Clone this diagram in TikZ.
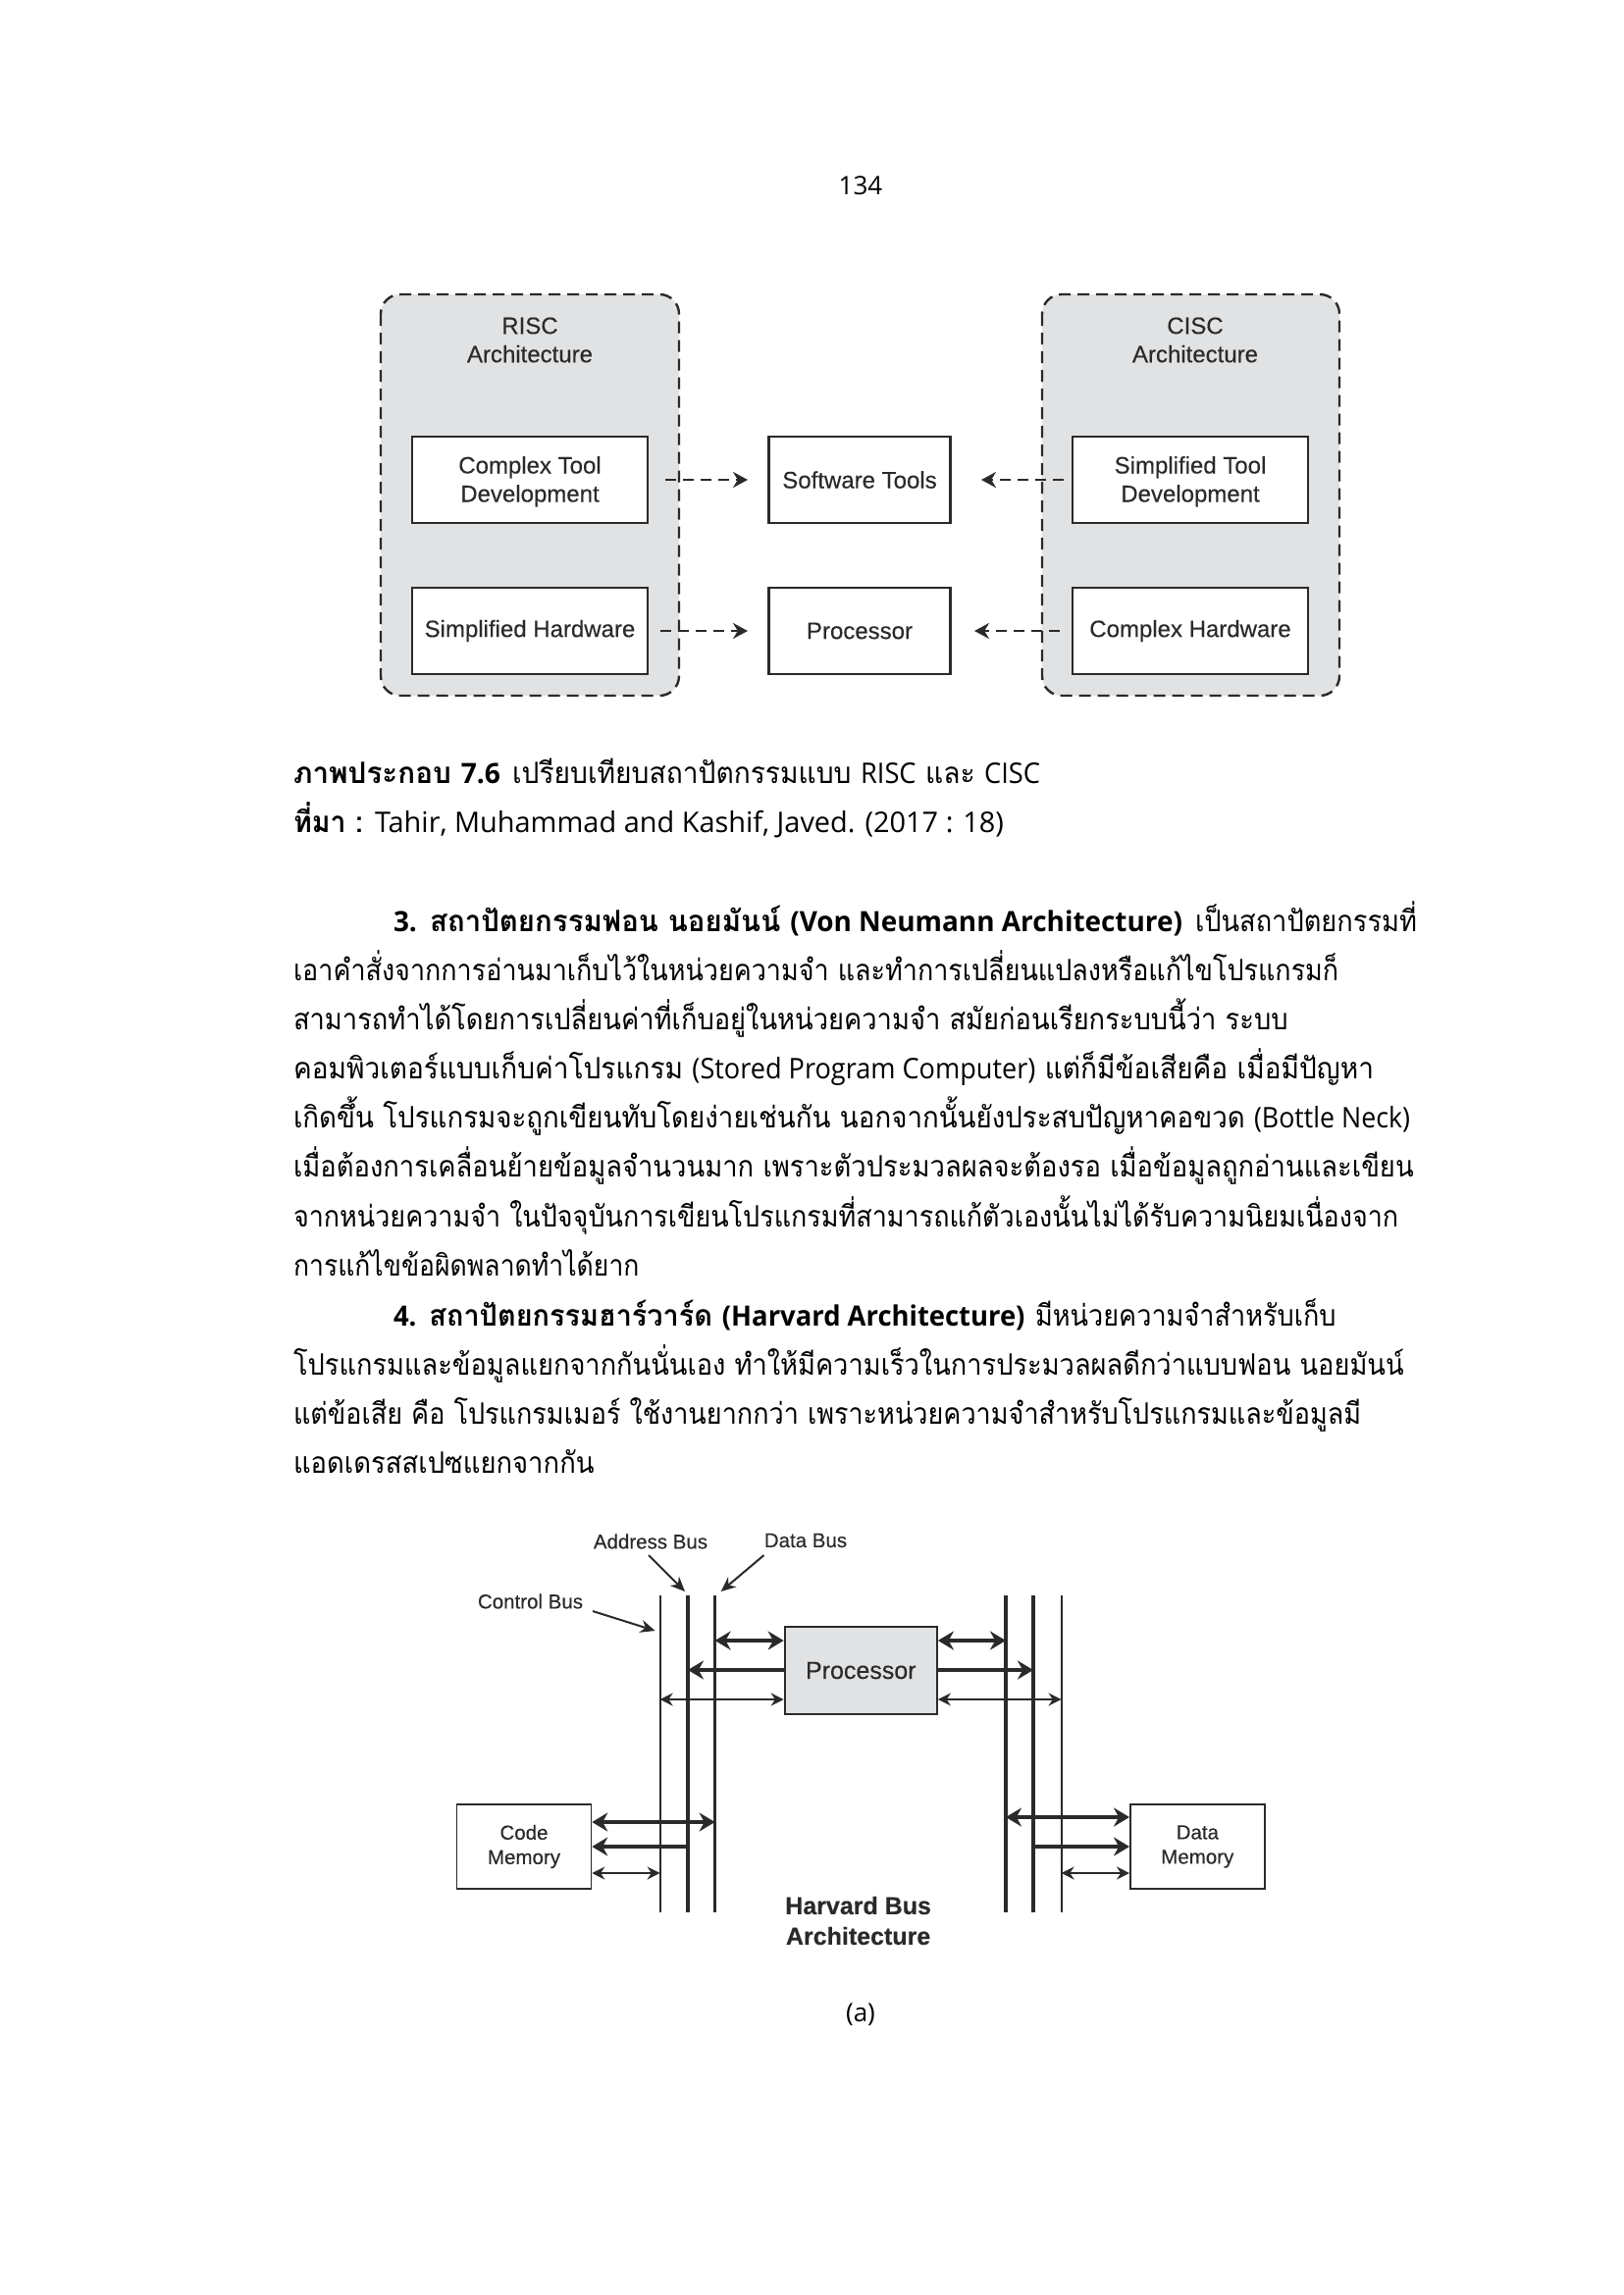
\documentclass[tikz,border=0pt]{standalone}
\usepackage{fontspec}
\usepackage{graphicx}
\usetikzlibrary{arrows.meta}
\newfontfamily\thaifont[Script=Thai]{Loma}
\newfontfamily\lat{Open Sans}
\newfontfamily\arialfont[FakeBold=0.25]{Liberation Sans}
\newfontfamily\arialbd[FakeBold=0.25]{Liberation Sans Bold}
\definecolor{boxgray}{HTML}{E1E2E3}
\definecolor{ink}{HTML}{2A2A2A}
\newcommand{\fitw}[2]{\resizebox{#1pt}{\height}{#2}}
\newcommand{\tl}[1]{{\lat\fontsize{29}{29}\selectfont #1}}
\newcommand{\bl}[1]{{\lat\bfseries\fontsize{28.5}{29}\selectfont #1}}
\newcommand{\topstrut}{\rule{0pt}{21pt}}
\tikzset{
  x=1pt,y=-1pt,
  body/.style={anchor=base west,inner sep=0pt,outer sep=0pt,text=black,font=\thaifont\fontsize{30}{30}\selectfont},
  bodyb/.style={body,font=\thaifont\bfseries\fontsize{30}{30}\selectfont},
  pagetxt/.style={inner sep=0pt,anchor=base,text=black,font=\lat\fontsize{26}{26}\selectfont},
  group/.style={draw=ink,fill=boxgray,line width=2.4pt,dash pattern=on 12pt off 7pt,rounded corners=20pt},
  plain/.style={draw=ink,fill=white,line width=2.2pt,inner sep=0pt,align=center,text=ink,font=\arialfont\fontsize{24}{29}\selectfont},
  small/.style={draw=ink,fill=white,line width=1.6pt,inner sep=0pt,align=center,text=ink,font=\arialfont\fontsize{20.5}{25}\selectfont},
  lab/.style={inner sep=0pt,align=center,text=ink,font=\arialfont\fontsize{24}{29}\selectfont},
  buslab/.style={inner sep=0pt,text=ink,font=\arialfont\fontsize{20.5}{25}\selectfont},
  dasharrow/.style={draw=ink,line width=2.4pt,dash pattern=on 11pt off 7pt,-{Stealth[length=15pt,width=16pt]}},
  thinbus/.style={draw=ink,line width=2pt},
  thickbus/.style={draw=ink,line width=3.6pt},
  biglink/.style={draw=ink,line width=4.2pt,{Stealth[length=16pt,width=19pt]}-{Stealth[length=16pt,width=19pt]}},
  bigone/.style={draw=ink,line width=4.2pt,-{Stealth[length=16pt,width=19pt]}},
  thinlink/.style={draw=ink,line width=2pt,{Stealth[length=13pt,width=13pt]}-{Stealth[length=13pt,width=13pt]}},
  pointer/.style={draw=ink,line width=2pt,-{Stealth[length=15pt,width=13pt]}},
}
\begin{document}
\begin{tikzpicture}
\useasboundingbox (0,0) rectangle (1654,2339);
\fill[white] (0,0) rectangle (1654,2339);

\node[pagetxt] (pnum) at (877,198) {134};

% --- RISC / CISC figure
\path[group] (388,300) rectangle (692,709);
\path[group] (1062,300) rectangle (1365,709);
\node[lab] (risc) at (540,346.5) {RISC\\Architecture};
\node[lab] (cisc) at (1218,346.5) {CISC\\Architecture};
\node[plain,minimum width=240pt,minimum height=88pt] (ctd) at (540,489) {\topstrut Complex Tool\\Development};
\node[plain,minimum width=240pt,minimum height=88pt] (shw) at (540,643) {Simplified Hardware};
\node[plain,minimum width=185pt,minimum height=88pt] (sw) at (876,489) {Software Tools};
\node[plain,minimum width=185pt,minimum height=88pt] (pr) at (876,643) {Processor};
\node[plain,minimum width=240pt,minimum height=88pt] (std) at (1213,489) {\topstrut Simplified Tool\\Development};
\node[plain,minimum width=240pt,minimum height=88pt] (chw) at (1213,643) {Complex Hardware};
\coordinate (a1) at (678,489);
\coordinate (a2) at (673,643);
\coordinate (a3) at (1084,489);
\coordinate (a4) at (1080,643);
\coordinate (t1) at (762,489);
\coordinate (t2) at (762,643);
\coordinate (t3) at (1000,489);
\coordinate (t4) at (993,643);
\draw[dasharrow] (a1) -- (t1);
\draw[dasharrow] (a2) -- (t2);
\draw[dasharrow] (a3) -- (t3);
\draw[dasharrow] (a4) -- (t4);

% --- caption
\node[bodyb] (c1a) at (299,798) {\fitw{211}{ภาพประกอบ \bl{7.6}}};
\node[body] (c1b) at (522,798) {\fitw{538}{เปรียบเทียบสถาปัตกรรมแบบ \tl{RISC} และ \tl{CISC}}};
\node[bodyb] (c2a) at (299,848) {\fitw{71}{ที่มา :}};
\node[body] (c2b) at (382,848) {\fitw{641}{\tl{Tahir, Muhammad and Kashif, Javed. (2017 : 18)}}};

% --- body text
\node[bodyb] (l3a) at (401,949) {\fitw{804}{\bl{3.} สถาปัตยกรรมฟอน นอยมันน์ \bl{(Von Neumann Architecture)}}};
\node[body] (l3b) at (1218,949) {\fitw{226}{เป็นสถาปัตยกรรมที่}};
\node[body] (l4) at (299,999) {\fitw{1065}{เอาคำสั่งจากการอ่านมาเก็บไว้ในหน่วยความจำ และทำการเปลี่ยนแปลงหรือแก้ไขโปรแกรมก็}};
\node[body] (l5) at (299,1049) {\fitw{1013.6}{สามารถทำได้โดยการเปลี่ยนค่าที่เก็บอยู่ในหน่วยความจำ สมัยก่อนเรียกระบบนี้ว่า ระบบ}};
\node[body] (l6) at (299,1099) {\fitw{1101}{คอมพิวเตอร์แบบเก็บค่าโปรแกรม \tl{(Stored Program Computer)} แต่ก็มีข้อเสียคือ เมื่อมีปัญหา}};
\node[body] (l7) at (299,1149) {\fitw{1138}{เกิดขึ้น โปรแกรมจะถูกเขียนทับโดยง่ายเช่นกัน นอกจากนั้นยังประสบปัญหาคอขวด \tl{(Bottle Neck)}}};
\node[body] (l8) at (299,1199) {\fitw{1141.5}{เมื่อต้องการเคลื่อนย้ายข้อมูลจำนวนมาก เพราะตัวประมวลผลจะต้องรอ เมื่อข้อมูลถูกอ่านและเขียน}};
\node[body] (l9) at (299,1250) {\fitw{1126}{จากหน่วยความจำ ในปัจจุบันการเขียนโปรแกรมที่สามารถแก้ตัวเองนั้นไม่ได้รับความนิยมเนื่องจาก}};
\node[body] (l10) at (299,1300) {\fitw{352.5}{การแก้ไขข้อผิดพลาดทำได้ยาก}};
\node[bodyb] (l11a) at (401,1351) {\fitw{643.5}{\bl{4.} สถาปัตยกรรมฮาร์วาร์ด \bl{(Harvard Architecture)}}};
\node[body] (l11b) at (1055,1351) {\fitw{306.6}{มีหน่วยความจำสำหรับเก็บ}};
\node[body] (l12) at (299,1401) {\fitw{1131.5}{โปรแกรมและข้อมูลแยกจากกันนั่นเอง ทำให้มีความเร็วในการประมวลผลดีกว่าแบบฟอน นอยมันน์}};
\node[body] (l13) at (299,1451) {\fitw{1088}{แต่ข้อเสีย คือ โปรแกรมเมอร์ ใช้งานยากกว่า เพราะหน่วยความจำสำหรับโปรแกรมและข้อมูลมี}};
\node[body] (l14) at (299,1501) {\fitw{306.6}{แอดเดรสสเปซแยกจากกัน}};

% --- Harvard figure
\coordinate (cbLt) at (672.6,1626); \coordinate (cbLb) at (672.6,1949);
\coordinate (abLt) at (701,1626); \coordinate (abLb) at (701,1949);
\coordinate (dbLt) at (728.6,1626); \coordinate (dbLb) at (728.6,1949);
\coordinate (dbRt) at (1025,1626); \coordinate (dbRb) at (1025,1949);
\coordinate (abRt) at (1053,1626); \coordinate (abRb) at (1053,1949);
\coordinate (cbRt) at (1081.6,1626); \coordinate (cbRb) at (1081.6,1949);
\draw[thinbus] (cbLt) -- (cbLb);
\draw[thickbus] (abLt) -- (abLb);
\draw[thickbus] (dbLt) -- (dbLb);
\draw[thickbus] (dbRt) -- (dbRb);
\draw[thickbus] (abRt) -- (abRb);
\draw[thinbus] (cbRt) -- (cbRb);

\node[draw=ink,fill=boxgray,line width=2.2pt,inner sep=0pt,minimum width=155pt,minimum height=89pt,text=ink,font=\arialfont\fontsize{25}{30}\selectfont] (hp) at (877.3,1702.5) {Processor};
\node[small,minimum width=137pt,minimum height=86pt] (code) at (534,1882) {Code\\Memory};
\node[small,minimum width=137pt,minimum height=86pt] (data) at (1220.3,1882) {Data\\Memory};

\coordinate (r1) at (0,1672);
\coordinate (r2) at (0,1702);
\coordinate (r3) at (0,1732);
\draw[biglink] (dbLt |- r1) -- (hp.west |- r1);
\draw[bigone] (hp.west |- r2) -- (abLt |- r2);
\draw[thinlink] (cbLt |- r3) -- (hp.west |- r3);
\draw[biglink] (hp.east |- r1) -- (dbRt |- r1);
\draw[bigone] (hp.east |- r2) -- (abRt |- r2);
\draw[thinlink] (hp.east |- r3) -- (cbRt |- r3);

\coordinate (m1) at (0,1857);
\coordinate (m2) at (0,1852);
\coordinate (m3) at (0,1882);
\coordinate (m4) at (0,1909);
\draw[biglink] (code.east |- m1) -- (dbLt |- m1);
\draw[bigone] (abLt |- m3) -- (code.east |- m3);
\draw[thinlink] (code.east |- m4) -- (cbLt |- m4);
\draw[biglink] (dbRt |- m2) -- (data.west |- m2);
\draw[bigone] (abRt |- m3) -- (data.west |- m3);
\draw[thinlink] (cbRt |- m4) -- (data.west |- m4);

\node[buslab] (adl) at (663,1571) {Address Bus};
\node[buslab] (dal) at (821,1570) {Data Bus};
\node[buslab] (col) at (540.5,1632) {Control Bus};
\coordinate (ada) at (698,1622);
\coordinate (daa) at (734.7,1622);
\coordinate (coa) at (667.6,1662);
\coordinate (adf) at (661,1585);
\coordinate (daf) at (778.5,1585);
\coordinate (cof) at (604,1642);
\draw[pointer] (adf) -- (ada);
\draw[pointer] (daf) -- (daa);
\draw[pointer] (cof) -- (coa);

\node[inner sep=0pt,align=center,text=ink,font=\arialbd\fontsize{25}{31}\selectfont] (hba) at (874.6,1957.5) {Harvard Bus\\Architecture};
\node[pagetxt] (sub) at (877,2060) {(a)};
\end{tikzpicture}
\end{document}
